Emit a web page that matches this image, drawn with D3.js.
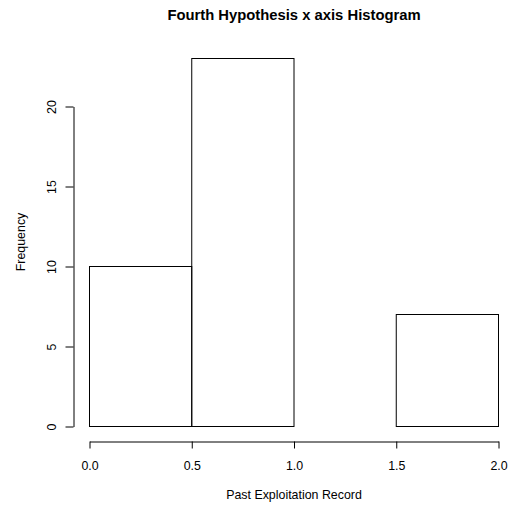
<!DOCTYPE html>
<html>
<head>
<meta charset="utf-8">
<script src="https://cdn.jsdelivr.net/npm/d3@7"></script>
<style>
  html, body { margin: 0; padding: 0; background: #fff; }
  svg { display: block; font-family: "Liberation Sans", Arial, Helvetica, sans-serif; }
</style>
</head>
<body>
<svg id="chart" width="514" height="508"></svg>
<script>
// Histogram bins (left edge, right edge) and their counts
const binStarts = [0.0, 0.5, 1.0, 1.5];
const binEnds   = [0.5, 1.0, 1.5, 2.0];
const counts    = [10, 23, 0, 7];
const xTicks    = [0.0, 0.5, 1.0, 1.5, 2.0];
const yTicks    = [0, 5, 10, 15, 20];

const titleText = "Fourth Hypothesis x axis Histogram";
const xLabel = "Past Exploitation Record";
const yLabel = "Frequency";

const svg = d3.select("#chart");

const x = d3.scaleLinear().domain([0, 2]).range([89.5, 498.5]);
const y = d3.scaleLinear().domain([0, 20]).range([426.5, 106.5]);

// bars
svg.append("g")
  .selectAll("rect")
  .data(counts)
  .join("rect")
  .attr("x", (d, i) => x(binStarts[i]))
  .attr("width", (d, i) => x(binEnds[i]) - x(binStarts[i]))
  .attr("y", d => y(d))
  .attr("height", d => y(0) - y(d))
  .attr("fill", "none")
  .attr("stroke", "#000")
  .attr("stroke-width", 1);

// x axis
const gx = svg.append("g")
  .attr("transform", "translate(0,441.5)")
  .call(d3.axisBottom(x).tickValues(xTicks).tickFormat(d3.format(".1f")).tickSize(7).tickSizeOuter(0));
gx.select(".domain").attr("stroke", "#000");
gx.selectAll(".tick line").attr("stroke", "#000");
gx.selectAll(".tick text")
  .attr("y", 0).attr("dy", 0)
  .attr("transform", "translate(0,28)")
  .attr("font-size", 12.4).attr("fill", "#000")
  .attr("font-family", "Liberation Sans, Arial, sans-serif");

// y axis
const gy = svg.append("g")
  .attr("transform", "translate(73.5,0)")
  .call(d3.axisLeft(y).tickValues(yTicks).tickFormat(d3.format("d")).tickSize(8).tickSizeOuter(0));
gy.select(".domain").attr("stroke", "#000");
gy.selectAll(".tick line").attr("stroke", "#000");
gy.selectAll(".tick text")
  .attr("x", 0).attr("dy", 0)
  .attr("text-anchor", "middle")
  .attr("transform", "translate(-18,0) rotate(-90)")
  .attr("font-size", 12.4).attr("fill", "#000")
  .attr("font-family", "Liberation Sans, Arial, sans-serif");

// title
svg.append("text")
  .attr("x", 294).attr("y", 20)
  .attr("text-anchor", "middle")
  .attr("font-size", 14.8).attr("font-weight", "bold")
  .text(titleText);

// axis titles
svg.append("text")
  .attr("x", 294).attr("y", 499)
  .attr("text-anchor", "middle")
  .attr("font-size", 12.4)
  .text(xLabel);

svg.append("text")
  .attr("transform", "translate(25,242) rotate(-90)")
  .attr("text-anchor", "middle")
  .attr("font-size", 12.4)
  .text(yLabel);
</script>
</body>
</html>
